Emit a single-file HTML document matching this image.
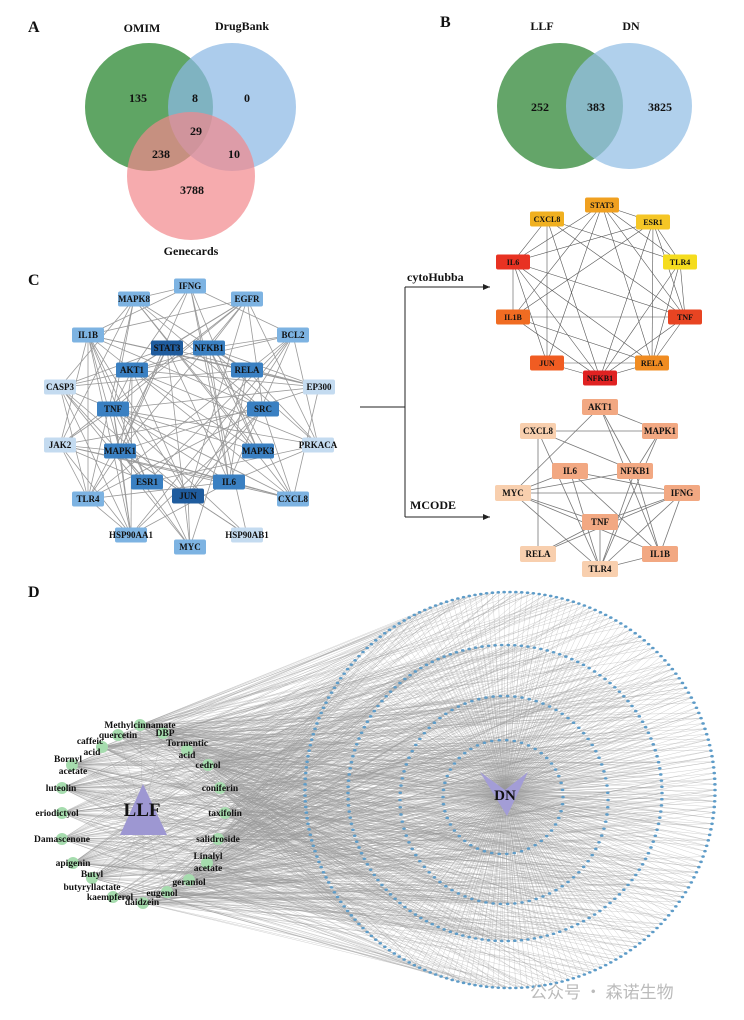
<!DOCTYPE html>
<html><head><meta charset="utf-8"><style>
html,body{margin:0;padding:0;background:#fff}
svg{display:block}
text{font-family:"Liberation Serif",serif;font-weight:bold;fill:#111}
</style></head><body>
<svg id="s" width="744" height="1020" viewBox="0 0 744 1020" xmlns="http://www.w3.org/2000/svg">
<defs>
<marker id="ar" markerWidth="8" markerHeight="8" refX="7" refY="4" orient="auto"><path d="M0,1 L7,4 L0,7 z" fill="#222"/></marker>
</defs>
<text x="28" y="32" font-size="16">A</text>
<circle cx="149" cy="107" r="64" fill="rgb(95,165,100)"/>
<circle cx="232" cy="107" r="64" fill="rgb(140,185,228)" fill-opacity="0.72"/>
<circle cx="191" cy="176" r="64" fill="rgb(242,135,140)" fill-opacity="0.7"/>
<text x="142" y="32" font-size="12" text-anchor="middle">OMIM</text>
<text x="242" y="30" font-size="12" text-anchor="middle">DrugBank</text>
<g font-size="12" text-anchor="middle">
<text x="138" y="102">135</text><text x="195" y="102">8</text><text x="247" y="102">0</text>
<text x="196" y="135">29</text><text x="161" y="158">238</text><text x="234" y="158">10</text>
<text x="192" y="194">3788</text></g>
<text x="191" y="255" font-size="12" text-anchor="middle">Genecards</text>
<text x="440" y="27" font-size="16">B</text>
<circle cx="560" cy="106" r="63" fill="rgb(100,165,105)"/>
<circle cx="629" cy="106" r="63" fill="rgb(150,192,230)" fill-opacity="0.75"/>
<text x="542" y="30" font-size="12" text-anchor="middle">LLF</text>
<text x="631" y="30" font-size="12" text-anchor="middle">DN</text>
<g font-size="12" text-anchor="middle"><text x="540" y="111">252</text><text x="596" y="111">383</text><text x="660" y="111">3825</text></g>
<text x="28" y="285" font-size="16">C</text>
<g id="cE" stroke="#999" stroke-width="0.8"></g>
<g id="cN"></g>
<path d="M360,407 H405 M405,287 V517" stroke="#222" stroke-width="1" fill="none"/>
<path d="M405,287 H490" stroke="#222" stroke-width="1" marker-end="url(#ar)"/>
<path d="M405,517 H490" stroke="#222" stroke-width="1" marker-end="url(#ar)"/>
<text x="407" y="281" font-size="12">cytoHubba</text>
<text x="410" y="509" font-size="12">MCODE</text>
<g id="hE" stroke="#555" stroke-width="0.6"></g><g id="hN"></g>
<g id="mE" stroke="#777" stroke-width="0.8"></g><g id="mN"></g>
<text x="28" y="597" font-size="16">D</text>
<g id="dE" stroke="#9a9a9a" stroke-width="0.45" stroke-opacity="0.5"></g>
<g id="dR"></g>
<g id="dN"></g>
<text x="530" y="998" font-size="17" style="font-family:'Noto Sans CJK SC',sans-serif;font-weight:normal;fill:#bbb">公众号 · 森诺生物</text>
</svg>
<script>
var NS="http://www.w3.org/2000/svg";
function el(p,t,a,txt){var e=document.createElementNS(NS,t);for(var k in a)e.setAttribute(k,a[k]);if(txt!==undefined)e.textContent=txt;document.getElementById(p).appendChild(e);return e;}
var seed=7;function rnd(){seed=(seed*16807)%2147483647;return seed/2147483647;}
function line(g,a,b){el(g,'line',{x1:a[0],y1:a[1],x2:b[0],y2:b[1]});}
function nodes(g,list,w,h,fs){list.forEach(function(n){el(g,'rect',{x:n[1]-w/2,y:n[2]-h/2,width:w,height:h,rx:2,fill:n[3]});el(g,'text',{x:n[1],y:n[2]+fs*0.35,'font-size':fs,'text-anchor':'middle'},n[0]);});}
var D1='#1f5c9e',M='#3a80c2',L='#7db3e2',LL='#c4dbf0';
var C=[['IFNG',190,286,L],['MAPK8',134,299,L],['EGFR',247,299,L],['IL1B',88,335,L],['BCL2',293,335,L],['STAT3',167,348,D1],['NFKB1',209,348,M],['AKT1',132,370,M],['RELA',247,370,M],['CASP3',60,387,LL],['EP300',319,387,LL],['TNF',113,409,M],['SRC',263,409,M],['JAK2',60,445,LL],['MAPK1',120,451,M],['MAPK3',258,451,M],['PRKACA',318,445,LL],['ESR1',147,482,M],['IL6',229,482,M],['JUN',188,496,D1],['TLR4',88,499,L],['CXCL8',293,499,L],['HSP90AA1',131,535,L],['HSP90AB1',247,535,LL],['MYC',190,547,L]];
for(var i=0;i<C.length;i++)for(var j=i+1;j<C.length;j++){if(rnd()<0.42)line('cE',[C[i][1],C[i][2]],[C[j][1],C[j][2]]);}
nodes('cN',C,32,15,9);
var H=[['STAT3',602,205,'#f0a020'],['CXCL8',547,219,'#f0b020'],['ESR1',653,222,'#f5c626'],['IL6',513,262,'#e83222'],['TLR4',680,262,'#f5dc1e'],['IL1B',513,317,'#f06c22'],['TNF',685,317,'#e84422'],['JUN',547,363,'#f05c22'],['RELA',652,363,'#f08c22'],['NFKB1',600,378,'#e02222']];
for(i=0;i<H.length;i++)for(j=i+1;j<H.length;j++){if(rnd()<0.75)line('hE',[H[i][1],H[i][2]],[H[j][1],H[j][2]]);}
nodes('hN',H,34,15,8);
var P='#f2a882',PL='#f8cfae';
var Mc=[['AKT1',600,407,P],['CXCL8',538,431,PL],['MAPK1',660,431,P],['IL6',570,471,P],['NFKB1',635,471,P],['MYC',513,493,PL],['IFNG',682,493,P],['TNF',600,522,P],['RELA',538,554,PL],['IL1B',660,554,P],['TLR4',600,569,PL]];
for(i=0;i<Mc.length;i++)for(j=i+1;j<Mc.length;j++){if(rnd()<0.55)line('mE',[Mc[i][1],Mc[i][2]],[Mc[j][1],Mc[j][2]]);}
nodes('mN',Mc,36,16,9);
var comps=[[140,725],[118,735],[102,747],[72,765],[62,788],[62,813],[62,839],[73,863],[92,878],[113,897],[143,903],[167,892],[189,880],[207,863],[218,839],[225,813],[220,788],[208,765],[187,750],[163,733]];
var rings=[[510,790,205,198,220],[505,793,157,148,150],[504,800,104,104,90],[503,797,60,57,50]];
var ringPts=[];
rings.forEach(function(r){for(var k=0;k<r[4];k++){var a=2*Math.PI*k/r[4];ringPts.push([r[0]+r[2]*Math.cos(a),r[1]+r[3]*Math.sin(a)]);}});
var DN=[505,793];
ringPts.forEach(function(p){line('dE',p,DN);var n=1+Math.floor(rnd()*3);for(var q=0;q<n;q++){line('dE',p,comps[Math.floor(rnd()*comps.length)]);}});
comps.forEach(function(c){line('dE',c,[143,815]);});
ringPts.forEach(function(p){el('dR','ellipse',{cx:p[0],cy:p[1],rx:1.8,ry:1.3,fill:'#5e9cc8'});});
el('dN','polygon',{points:'120,835 143,784 167,835',fill:'#9d97d2'});
el('dN','polygon',{points:'480,772 505,790 528,772 507,816',fill:'#a39dd6'});
el('dN','text',{x:142,y:816,'font-size':19,'text-anchor':'middle'},'LLF');
el('dN','text',{x:505,y:800,'font-size':15,'text-anchor':'middle'},'DN');
comps.forEach(function(c){el('dN','circle',{cx:c[0],cy:c[1],r:6,fill:'#a6dcae'});});
var labs=[['Methylcinnamate',140,728],['quercetin',118,738],['caffeic',90,744],['acid',92,755],['Bornyl',68,762],['acetate',73,774],['luteolin',61,791],['eriodictyol',57,816],['Damascenone',62,842],['apigenin',73,866],['Butyl',92,877],['butyryllactate',92,890],['kaempferol',110,900],['daidzein',142,905],['eugenol',162,896],['geraniol',189,885],['Linalyl',208,859],['acetate',208,871],['salidroside',218,842],['taxifolin',225,816],['coniferin',220,791],['cedrol',208,768],['Tormentic',187,746],['acid',187,758],['DBP',165,736]];
labs.forEach(function(l){el('dN','text',{x:l[1],y:l[2],'font-size':9.5,'text-anchor':'middle'},l[0]);});
</script>
</body></html>
